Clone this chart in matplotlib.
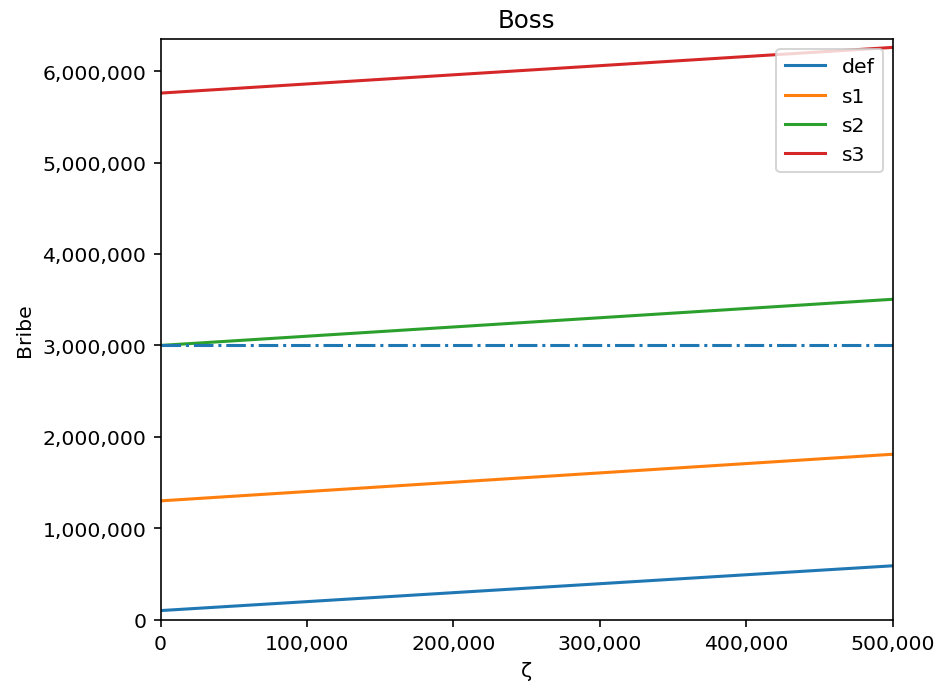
import matplotlib
matplotlib.use('Agg')
import matplotlib.pyplot as plt
from matplotlib.ticker import FuncFormatter

# zeta values and bribe per scenario
zeta = [0, 500000]
bribe_def = [100000, 590000]
bribe_s1 = [1300000, 1810000]
bribe_s2 = [3000000, 3505000]
bribe_s3 = [5760000, 6260000]
threshold = [3000000, 3000000]

fig = plt.figure(figsize=(6.4, 4.717), dpi=146.7)
ax = fig.add_subplot(111)
fig.subplots_adjust(left=0.171, right=0.951, top=0.942, bottom=0.103)

ax.plot(zeta, bribe_def, label='def')
ax.plot(zeta, bribe_s1, label='s1')
ax.plot(zeta, bribe_s2, label='s2')
ax.plot(zeta, bribe_s3, label='s3')
ax.plot(zeta, threshold, color='C0', linestyle='-.')

fmt = FuncFormatter(lambda v, p: '{:,.0f}'.format(v))
ax.xaxis.set_major_formatter(fmt)
ax.yaxis.set_major_formatter(fmt)
ax.set_xlim(0, 500000)
ax.set_ylim(0, 6350000)

ax.set_title('Boss')
ax.set_xlabel('ζ')
ax.set_ylabel('Bribe')
ax.legend(loc='upper right')

plt.savefig('out.png')
